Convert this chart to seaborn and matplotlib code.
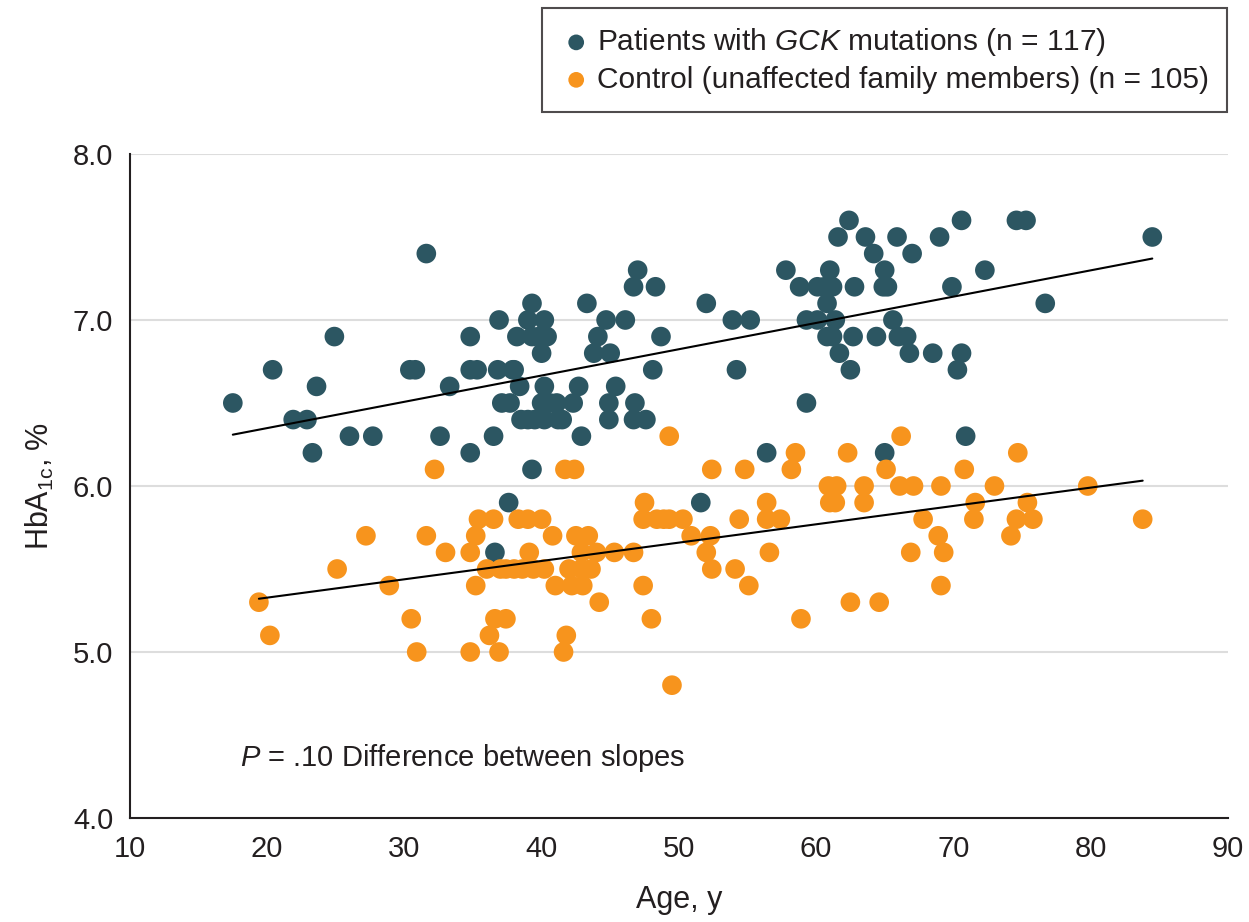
import pandas as pd
import seaborn as sns
import matplotlib.pyplot as plt
from matplotlib import font_manager

# GCK mutation carriers: age (y) and HbA1c (%)
gck_age = [17.5, 20.4, 21.9, 22.9, 23.3, 23.6, 24.9, 26.0, 27.7, 30.4,
           30.8, 31.6, 32.6, 33.3, 34.8, 34.8, 34.8, 35.3, 36.5, 37.6,
           36.6, 39.3, 47.0, 46.7, 48.3, 39.3, 43.3, 52.0, 36.9, 39.0,
           40.2, 44.7, 46.1, 53.9, 55.2, 38.2, 39.3, 40.4, 44.1, 48.7,
           40.0, 43.8, 45.0, 36.8, 37.9, 48.1, 54.2, 38.4, 40.2, 42.7,
           45.4, 37.1, 37.7, 40.0, 41.1, 42.3, 44.9, 46.8, 38.5, 39.5,
           40.2, 41.2, 44.9, 46.7, 47.6, 42.9, 51.6, 62.4, 70.6, 74.6,
           75.3, 61.6, 63.6, 65.9, 69.0, 84.5, 64.2, 67.0, 57.8, 61.0,
           65.0, 72.3, 58.8, 60.1, 61.2, 62.8, 64.9, 69.9, 60.8, 76.7,
           59.3, 60.1, 61.4, 65.6, 60.8, 62.7, 64.4, 66.0, 66.6, 61.7,
           66.8, 68.5, 70.6, 62.5, 70.3, 59.3, 56.4, 65.0, 70.9, 39.8,
           40.6, 39.0, 60.6, 61.2, 38.0, 65.2, 41.5]
gck_hba1c = [6.5, 6.7, 6.4, 6.4, 6.2, 6.6, 6.9, 6.3, 6.3, 6.7,
             6.7, 7.4, 6.3, 6.6, 6.9, 6.2, 6.7, 6.7, 6.3, 5.9,
             5.6, 6.1, 7.3, 7.2, 7.2, 7.1, 7.1, 7.1, 7.0, 7.0,
             7.0, 7.0, 7.0, 7.0, 7.0, 6.9, 6.9, 6.9, 6.9, 6.9,
             6.8, 6.8, 6.8, 6.7, 6.7, 6.7, 6.7, 6.6, 6.6, 6.6,
             6.6, 6.5, 6.5, 6.5, 6.5, 6.5, 6.5, 6.5, 6.4, 6.4,
             6.4, 6.4, 6.4, 6.4, 6.4, 6.3, 5.9, 7.6, 7.6, 7.6,
             7.6, 7.5, 7.5, 7.5, 7.5, 7.5, 7.4, 7.4, 7.3, 7.3,
             7.3, 7.3, 7.2, 7.2, 7.2, 7.2, 7.2, 7.2, 7.1, 7.1,
             7.0, 7.0, 7.0, 7.0, 6.9, 6.9, 6.9, 6.9, 6.9, 6.8,
             6.8, 6.8, 6.8, 6.7, 6.7, 6.5, 6.2, 6.2, 6.3, 6.9,
             6.5, 6.4, 7.2, 6.9, 6.7, 7.2, 6.4]

# unaffected family members
ctrl_age = [32.2, 49.3, 41.7, 42.4, 52.4, 54.8, 66.2, 58.5, 62.3, 74.7,
            58.2, 65.1, 70.8, 60.9, 61.5, 63.5, 66.1, 67.1, 69.1, 73.0,
            79.8, 35.4, 36.5, 27.2, 31.6, 35.2, 33.0, 34.8, 25.1, 36.0,
            37.0, 28.9, 35.2, 19.4, 30.5, 36.6, 37.4, 20.2, 36.2, 30.9,
            34.8, 36.9, 47.5, 56.4, 38.3, 39.0, 40.0, 47.4, 48.4, 49.3,
            50.3, 54.4, 56.4, 40.8, 42.5, 43.4, 50.9, 52.3, 39.1, 42.9,
            44.0, 45.3, 46.7, 52.0, 56.6, 37.4, 38.6, 39.4, 40.2, 42.9,
            43.6, 52.4, 54.1, 41.0, 42.2, 43.0, 47.4, 55.1, 44.2, 48.0,
            41.8, 41.6, 49.5, 61.4, 63.5, 71.6, 75.4, 57.4, 67.8, 71.5,
            74.6, 75.8, 68.9, 74.2, 66.9, 69.3, 69.1, 62.5, 64.6, 58.9,
            83.8, 48.9, 42.0, 61.0, 38.0]
ctrl_hba1c = [6.1, 6.3, 6.1, 6.1, 6.1, 6.1, 6.3, 6.2, 6.2, 6.2,
              6.1, 6.1, 6.1, 6.0, 6.0, 6.0, 6.0, 6.0, 6.0, 6.0,
              6.0, 5.8, 5.8, 5.7, 5.7, 5.7, 5.6, 5.6, 5.5, 5.5,
              5.5, 5.4, 5.4, 5.3, 5.2, 5.2, 5.2, 5.1, 5.1, 5.0,
              5.0, 5.0, 5.9, 5.9, 5.8, 5.8, 5.8, 5.8, 5.8, 5.8,
              5.8, 5.8, 5.8, 5.7, 5.7, 5.7, 5.7, 5.7, 5.6, 5.6,
              5.6, 5.6, 5.6, 5.6, 5.6, 5.5, 5.5, 5.5, 5.5, 5.5,
              5.5, 5.5, 5.5, 5.4, 5.4, 5.4, 5.4, 5.4, 5.3, 5.2,
              5.1, 5.0, 4.8, 5.9, 5.9, 5.9, 5.9, 5.8, 5.8, 5.8,
              5.8, 5.8, 5.7, 5.7, 5.6, 5.6, 5.4, 5.3, 5.3, 5.2,
              5.8, 5.8, 5.5, 5.9, 5.5]

x_ticks = [10, 20, 30, 40, 50, 60, 70, 80, 90]
y_ticks = [4.0, 5.0, 6.0, 7.0, 8.0]

GCK_COLOR = '#2c5662'
CTRL_COLOR = '#f7941d'
INK = '#231f20'

sns.set_theme(style='white')

# pick a narrow sans if it is installed
names = {f.name for f in font_manager.fontManager.ttflist}
FONT = 'Liberation Sans Narrow' if 'Liberation Sans Narrow' in names else 'Liberation Sans'
plt.rcParams['font.family'] = [FONT, 'DejaVu Sans']
plt.rcParams['mathtext.fontset'] = 'custom'
plt.rcParams['mathtext.rm'] = FONT
plt.rcParams['mathtext.it'] = FONT + ':italic'

gck = pd.DataFrame({'age': gck_age, 'hba1c': gck_hba1c})
ctrl = pd.DataFrame({'age': ctrl_age, 'hba1c': ctrl_hba1c})

fig = plt.figure(figsize=(12.49, 9.22), dpi=100)
ax = fig.add_axes([0.104, 0.1128, 0.879, 0.7202])

ax.set_axisbelow(True)
for y in y_ticks[1:]:
    ax.axhline(y, color='#dddddd', lw=1.5, zorder=0)

sns.scatterplot(data=gck, x='age', y='hba1c', ax=ax, color=GCK_COLOR, s=200,
                edgecolor='none', label=r'Patients with $\it{GCK}$ mutations (n = 117)', zorder=3)
sns.scatterplot(data=ctrl, x='age', y='hba1c', ax=ax, color=CTRL_COLOR, s=200,
                edgecolor='none', label='Control (unaffected family members) (n = 105)', zorder=3)

# fitted lines
sns.regplot(data=gck, x='age', y='hba1c', ax=ax, scatter=False, ci=None,
            color='black', line_kws={'lw': 1.5, 'zorder': 4})
sns.regplot(data=ctrl, x='age', y='hba1c', ax=ax, scatter=False, ci=None,
            color='black', line_kws={'lw': 1.5, 'zorder': 4})

ax.set_xlim(10, 90)
ax.set_ylim(4, 8)
ax.set_xticks(x_ticks)
ax.set_yticks(y_ticks)
ax.set_yticklabels([f'{v:.1f}' for v in y_ticks])
ax.tick_params(axis='both', direction='out', length=8, width=1.5, color=INK,
               labelsize=21, labelcolor=INK, pad=4)
for side in ['top', 'right']:
    ax.spines[side].set_visible(False)
for side in ['left', 'bottom']:
    ax.spines[side].set_color(INK)
    ax.spines[side].set_linewidth(1.5)

ax.set_xlabel('Age, y', fontsize=22, color=INK, labelpad=16)
ax.set_ylabel(r'HbA$_{\mathrm{1c}}$, %', fontsize=22, color=INK, labelpad=12)

ax.text(18, 4.36, r'$\it{P}$ = .10 Difference between slopes', fontsize=21,
        color=INK, va='center', ha='left')

ax.get_legend().remove()
handles, labels = ax.get_legend_handles_labels()
leg = fig.legend(handles, labels, loc='upper right', bbox_to_anchor=(0.9824, 0.991),
                 borderaxespad=0, fontsize=21.5, frameon=True, fancybox=False,
                 edgecolor=INK, markerscale=0.8, handletextpad=0.15, borderpad=0.6,
                 labelspacing=0.25, handlelength=1.1)
leg.get_frame().set_linewidth(1.5)
for t in leg.get_texts():
    t.set_color(INK)

fig.savefig('out.png', dpi=100)
